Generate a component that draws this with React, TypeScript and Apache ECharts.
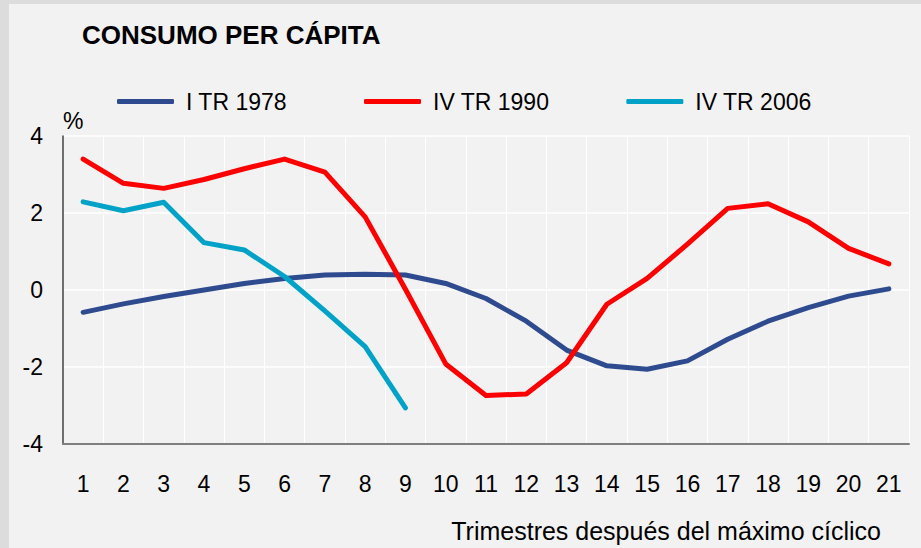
import React, { useEffect, useRef } from "react";
import * as echarts from "echarts";

const categories = ["1","2","3","4","5","6","7","8","9","10","11","12","13","14","15","16","17","18","19","20","21"];
const seriesNames = ["I TR 1978", "IV TR 1990", "IV TR 2006"];
const tr1978 = [-0.58, -0.36, -0.17, 0.0, 0.17, 0.3, 0.39, 0.41, 0.39, 0.17, -0.22, -0.81, -1.56, -1.97, -2.06, -1.84, -1.28, -0.81, -0.46, -0.16, 0.03];
const tr1990 = [3.4, 2.77, 2.64, 2.87, 3.15, 3.4, 3.06, 1.9, 0.02, -1.92, -2.74, -2.7, -1.89, -0.37, 0.3, 1.19, 2.12, 2.24, 1.77, 1.08, 0.68];
const tr2006 = [2.29, 2.06, 2.28, 1.23, 1.04, 0.35, -0.54, -1.47, -3.06];
const colors = ["#2F4B8F", "#FF0000", "#00A2C7"];
const titleText = "CONSUMO PER CÁPITA";
const xAxisName = "Trimestres después del máximo cíclico";
const yUnit = "%";

const FONT = "'Liberation Sans', Arial, sans-serif";

export default function App() {
  const ref = useRef<HTMLDivElement>(null);
  useEffect(() => {
    document.body.style.margin = "0";
    document.body.style.background = "#dcdcdc";
    const chart = echarts.init(ref.current!, null, { renderer: "svg" });
    const data = [tr1978, tr1990, tr2006];
    chart.setOption({
      animation: false,
      backgroundColor: "#f2f2f2",
      textStyle: { fontFamily: FONT },
      legend: {
        left: 103,
        top: 81,
        itemWidth: 57,
        itemHeight: 5,
        itemGap: 77,
        icon: "roundRect",
        textStyle: { fontSize: 23, color: "#000", fontFamily: FONT, padding: [0, 0, 0, 7] },
        data: seriesNames,
      },
      grid: { left: 54, right: 12, top: 132, bottom: 104 },
      xAxis: {
        type: "category",
        data: categories,
        boundaryGap: true,
        axisLine: { show: true, onZero: false, lineStyle: { color: "#7f7f7f", width: 2 } },
        axisTick: { show: false },
        axisLabel: { fontSize: 23, color: "#000", margin: 28, fontFamily: FONT },
        splitLine: { show: true, lineStyle: { color: "#ffffff", width: 1 } },
      },
      yAxis: {
        type: "value",
        min: -4,
        max: 4,
        interval: 2,
        axisLine: { show: true, lineStyle: { color: "#404040", width: 1.5 } },
        axisTick: { show: false },
        axisLabel: { fontSize: 23, color: "#000", margin: 20, fontFamily: FONT },
        splitLine: { show: true, lineStyle: { color: "#ffffff", width: 1.5 } },
      },
      graphic: [
        {
          type: "text",
          left: 73,
          top: 18,
          style: { text: titleText, font: `bold 26px ${FONT}`, fill: "#000" },
        },
        {
          type: "text",
          left: 54,
          top: 105,
          style: { text: yUnit, font: `23px ${FONT}`, fill: "#000" },
        },
        {
          type: "text",
          right: 40,
          top: 514,
          style: { text: xAxisName, font: `25px ${FONT}`, fill: "#000" },
        },
      ],
      series: seriesNames.map((name, i) => ({
        name,
        type: "line",
        data: data[i],
        symbol: "none",
        color: colors[i],
        lineStyle: { width: 5, color: colors[i], cap: "round", join: "round" },
        z: i === 1 ? 3 : i === 0 ? 2 : 4,
      })),
    });
    return () => chart.dispose();
  }, []);
  return (
    <div style={{ width: 921, height: 548, background: "#dcdcdc", position: "relative" }}>
      <div ref={ref} style={{ position: "absolute", left: 9, top: 4, width: 912, height: 544 }} />
    </div>
  );
}
